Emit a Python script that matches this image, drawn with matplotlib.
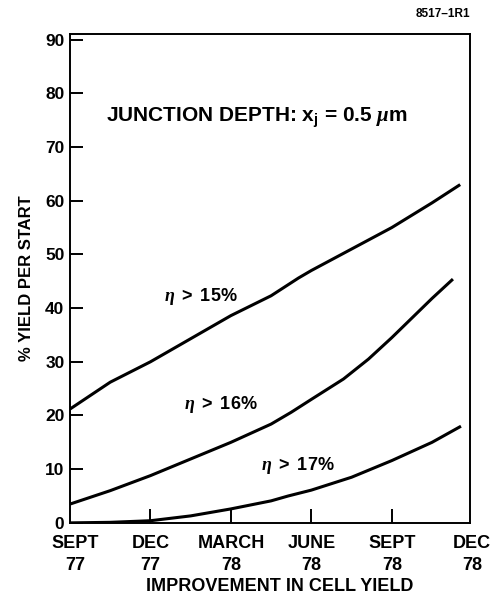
import matplotlib
matplotlib.use("Agg")
import matplotlib.pyplot as plt
import matplotlib.transforms as mtransforms

plt.rcParams["font.family"] = ["Liberation Sans", "DejaVu Sans"]
plt.rcParams["font.weight"] = "bold"
plt.rcParams["mathtext.fontset"] = "custom"
plt.rcParams["mathtext.rm"] = "Liberation Sans"
plt.rcParams["mathtext.bf"] = "Liberation Sans:bold"
plt.rcParams["mathtext.it"] = "Liberation Serif:italic"

# quarters since Sept 77
quarter_labels = ["SEPT\n77", "DEC\n77", "MARCH\n78", "JUNE\n78", "SEPT\n78", "DEC\n78"]
x_eta15 = [0, 0.5, 1, 1.5, 2, 2.5, 2.84, 3, 3.5, 4, 4.5, 4.85]
y_eta15 = [21.2, 26.2, 30.0, 34.3, 38.6, 42.3, 45.6, 47.0, 51.0, 55.0, 59.6, 63.0]
x_eta16 = [0, 0.5, 1, 1.5, 2, 2.5, 2.75, 3, 3.4, 3.71, 4, 4.5, 4.76]
y_eta16 = [3.5, 6.0, 8.8, 11.9, 15.0, 18.4, 20.6, 23.0, 26.8, 30.5, 34.5, 41.8, 45.4]
x_eta17 = [0, 0.5, 1, 1.5, 2, 2.5, 2.71, 3, 3.5, 4, 4.5, 4.86]
y_eta17 = [0.0, 0.1, 0.4, 1.3, 2.6, 4.1, 5.0, 6.1, 8.5, 11.6, 15.0, 18.0]
yticks = [0, 10, 20, 30, 40, 50, 60, 70, 80, 90]

fig = plt.figure(figsize=(4.93, 6.01), dpi=100)
ax = fig.add_axes([0.142, 0.13, 0.811, 0.813])

for xs, ys in [(x_eta15, y_eta15), (x_eta16, y_eta16), (x_eta17, y_eta17)]:
    ax.plot(xs, ys, color="black", lw=2.2, solid_capstyle="butt", solid_joinstyle="round")

ax.set_xlim(0, 4.97)
ax.set_ylim(0, 91)
for s in ax.spines.values():
    s.set_linewidth(1.4)

ax.set_yticks(yticks)
ax.set_yticklabels([str(v) for v in yticks], fontsize=12.5, fontweight="bold")
ax.tick_params(axis="y", direction="in", length=9, width=1.4, pad=4)
ax.set_xticks([1, 2, 3, 4])
ax.set_xticklabels([])
ax.tick_params(axis="x", direction="in", length=10, width=1.4)

trans = mtransforms.blended_transform_factory(ax.transData, ax.transAxes)
for i, lab in enumerate(quarter_labels):
    ax.text(i + (0.06 if i == 0 else 0), -0.025, lab, transform=trans, ha="center", va="top",
            fontsize=13, fontweight="bold", linespacing=1.35, clip_on=False)

fig.text(0.567, 0.024, "IMPROVEMENT IN CELL YIELD", fontsize=13, fontweight="bold",
         ha="center", va="center")
ax.set_ylabel("% YIELD PER START", fontsize=12, fontweight="bold", labelpad=8)

ax.text(0.45, 75.5, r"JUNCTION DEPTH: x$_\mathbf{j}$ = 0.5 $\mathit{\mu}$m",
        fontsize=15, fontweight="bold", va="center", ha="left")
ax.text(1.63, 42.2, r"$\mathit{\eta}$ $>$ 15%", fontsize=13, fontweight="bold", ha="center", va="center")
ax.text(1.87, 22.0, r"$\mathit{\eta}$ $>$ 16%", fontsize=13, fontweight="bold", ha="center", va="center")
ax.text(2.83, 10.6, r"$\mathit{\eta}$ $>$ 17%", fontsize=13, fontweight="bold", ha="center", va="center")

fig.text(0.953, 0.977, "8517\u20131R1", fontsize=8.5, fontweight="bold", ha="right", va="center")

fig.savefig("out.png", dpi=100)
